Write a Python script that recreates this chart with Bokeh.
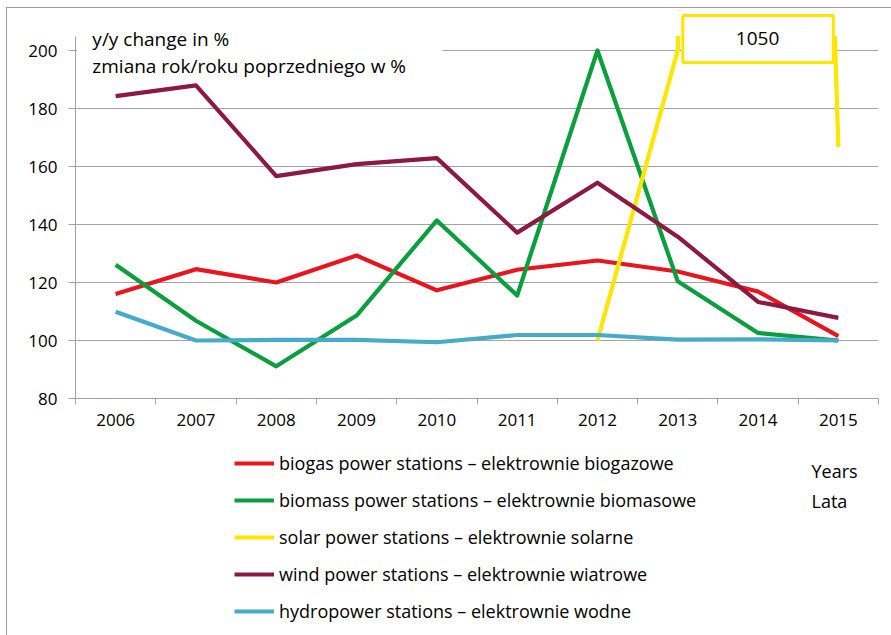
from bokeh.plotting import figure
from bokeh.layouts import column
from bokeh.models import Range1d, FixedTicker, Legend, LegendItem, Label, BoxAnnotation
from bokeh.embed import file_html
from bokeh.resources import INLINE

# ---- data: year-on-year change of installed capacity, in % ----
years = [2006, 2007, 2008, 2009, 2010, 2011, 2012, 2013, 2014, 2015]
biogas = [116.0, 124.6, 120.0, 129.3, 117.3, 124.4, 127.6, 123.8, 116.9, 101.5]
biomass = [126.1, 106.8, 91.1, 108.6, 141.4, 115.5, 200.0, 120.4, 102.6, 100.0]
solar = [None, None, None, None, None, None, 100.0, 200.0, 1050.0, 166.7]
wind = [184.3, 188.0, 156.7, 160.8, 162.9, 137.2, 154.4, 135.8, 113.3, 107.8]
hydro = [109.9, 100.0, 100.2, 100.2, 99.4, 101.9, 101.9, 100.3, 100.4, 100.0]
y_ticks = [80, 100, 120, 140, 160, 180, 200]
y_max = 205

series = [
    ("biogas power stations \u2013 elektrownie biogazowe", biogas, "#E8141E"),
    ("biomass power stations \u2013 elektrownie biomasowe", biomass, "#0A9E3C"),
    ("solar power stations \u2013 elektrownie solarne", solar, "#FFE600"),
    ("wind power stations \u2013 elektrownie wiatrowe", wind, "#8C1941"),
    ("hydropower stations \u2013 elektrownie wodne", hydro, "#46AAC8"),
]

FONT = "Open Sans"
TICK_SIZE = "17px"
GRID = "#A3A3A3"
EDGE = "#9d9d9d"
LINE_W = 4.2

# ---------------- chart ----------------
# frame: x 75..878 px, y 10..398 px; 2.9 px per percentage point
p = figure(
    width=891, height=440,
    x_range=Range1d(years[0] - 0.5, years[-1] + 0.5),
    y_range=Range1d(y_ticks[0], 213.8),
    output_backend="svg", toolbar_location=None,
    min_border_left=75, min_border_right=13,
    min_border_top=10, min_border_bottom=42,
)
p.border_fill_color = None
p.background_fill_color = "white"
p.outline_line_color = None
p.styles = {
    "background": (
        f"linear-gradient({EDGE},{EDGE}) 6px 7px / 1px 100% no-repeat, "
        f"linear-gradient({EDGE},{EDGE}) 6px 7px / 100% 1px no-repeat, #ffffff"
    )
}

# x axis: labels at the years, tick marks between the categories
bounds = [y - 0.5 for y in years] + [years[-1] + 0.5]
p.xaxis.ticker = FixedTicker(ticks=years, minor_ticks=bounds)
p.xaxis.major_tick_out = 0
p.xaxis.major_tick_in = 0
p.xaxis.minor_tick_out = 6
p.xaxis.minor_tick_in = 0
p.xaxis.minor_tick_line_color = GRID
p.xaxis.axis_line_color = GRID
p.xaxis.major_label_standoff = 9

p.yaxis.ticker = FixedTicker(ticks=y_ticks, minor_ticks=[])
p.yaxis.bounds = (y_ticks[0], y_max)
p.yaxis.major_tick_out = 7
p.yaxis.major_tick_in = 0
p.yaxis.major_tick_line_color = GRID
p.yaxis.axis_line_color = GRID
p.yaxis.major_label_standoff = 11

for ax in (p.xaxis, p.yaxis):
    ax.major_label_text_font = FONT
    ax.major_label_text_font_size = TICK_SIZE
    ax.major_label_text_color = "black"

p.xgrid.visible = False
p.ygrid.grid_line_color = GRID
p.ygrid.grid_line_width = 1

for name, vals, color in series:
    xs = [yr for yr, v in zip(years, vals) if v is not None]
    ys = [v for v in vals if v is not None]
    p.line(xs, ys, line_color=color, line_width=LINE_W, line_join="round")

# the value axis ends at y_max: blank out the strip above it
p.add_layout(BoxAnnotation(left=years[0] - 0.5, right=years[-1] + 0.5,
                           bottom=y_max, top=213.8,
                           fill_color="white", fill_alpha=1.0, line_color=None))
# white box behind the axis caption (hides the top grid line there)
p.add_layout(BoxAnnotation(left=2005.52, right=2010.07, bottom=197.5, top=y_max,
                           fill_color="white", fill_alpha=1.0, line_color=None))

p.add_layout(Label(x=2005.71, y=203.8, text="y/y change in %",
                   text_font=FONT, text_font_size="19px", text_color="black",
                   text_baseline="middle"))
p.add_layout(Label(x=2005.71, y=194.8, text="zmiana rok/roku poprzedniego w %",
                   text_font=FONT, text_font_size="19px", text_color="black",
                   text_baseline="middle"))

# off-scale solar value, written in a box at its year
for yr, v in zip(years, solar):
    if v is not None and v > y_max:
        p.add_layout(Label(
            x=yr, y=204.0, text=f"{v:.0f}",
            text_font=FONT, text_font_size="19px", text_color="black",
            text_align="center", text_baseline="middle",
            background_fill_color="white", background_fill_alpha=1.0,
            border_line_color="#FFE600", border_line_width=3,
            padding=dict(left=53, right=54, top=17, bottom=17),
        ))

# ---------------- legend strip ----------------
# its frame lines up with the chart frame (75..878 px); data units here are
# page pixels horizontally and pixels from the strip's top vertically
q = figure(
    width=891, height=195,
    x_range=Range1d(75, 878), y_range=Range1d(195, 0),
    x_axis_type=None, y_axis_type=None,
    output_backend="svg", toolbar_location=None,
    min_border=0,
)
q.border_fill_color = None
q.background_fill_color = None
q.outline_line_color = None
q.xgrid.visible = False
q.ygrid.visible = False
q.styles = {
    "background": f"linear-gradient({EDGE},{EDGE}) 6px 0px / 1px 100% no-repeat, #ffffff"
}

nan = float("nan")
items = []
for name, vals, color in series:
    r = q.line([nan], [nan], line_color=color, line_width=LINE_W)
    items.append(LegendItem(label=name, renderers=[r]))

legend = Legend(
    items=items, location=(159, 12), orientation="vertical",
    glyph_width=40, glyph_height=24, label_height=24, spacing=13,
    label_standoff=5, padding=0, margin=0,
    label_text_font=FONT, label_text_font_size="18px", label_text_color="black",
    border_line_color=None, background_fill_alpha=0,
)
q.add_layout(legend, "center")

q.add_layout(Label(x=811, y=30, text="Years", text_font=FONT, text_color="black",
                   text_font_size="18px", text_baseline="middle"))
q.add_layout(Label(x=811, y=60, text="Lata", text_font=FONT, text_color="black",
                   text_font_size="18px", text_baseline="middle"))

layout = column(p, q, spacing=0)
open("out.html", "w").write(file_html(layout, INLINE))
